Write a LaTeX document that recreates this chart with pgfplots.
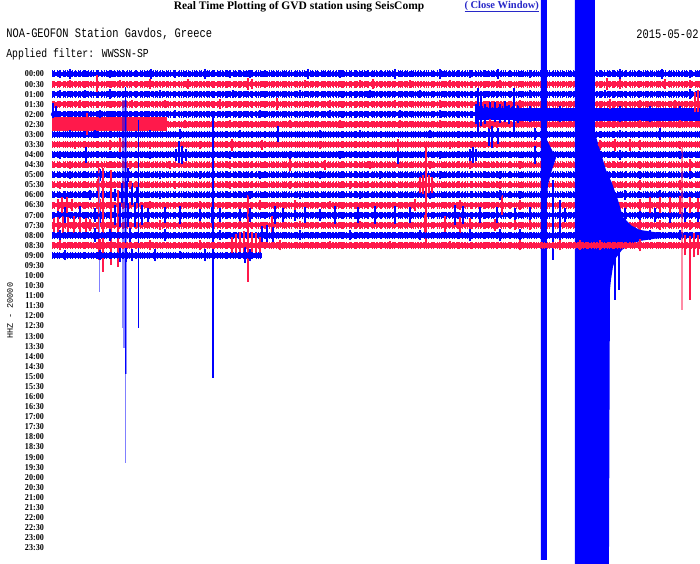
\documentclass[border=0pt]{standalone}
\usepackage{fontspec}
\setmainfont{Liberation Serif}
\newfontfamily\hdrfont[FakeStretch=0.8]{Liberation Mono}
\newfontfamily\tickfont[FakeStretch=0.9]{Liberation Serif Bold}
\newfontfamily\labfont{Liberation Mono}
\usepackage{pgfplots}
\usepackage{pgfplotstable}
\pgfplotsset{compat=1.18}
\definecolor{sb}{RGB}{0,0,255}
\definecolor{sr}{RGB}{255,25,75}
\definecolor{sbl}{RGB}{128,128,255}
\definecolor{lk}{RGB}{40,40,200}

% bursts of the blue rows (00:00 ... 07:00): x, row centre y, extent up u, extent down d (pixels)
\pgfplotstableread{
x y u d
60 74 4 4
70 74 5 5
110 74 4 4
151 74 5 5
175 74 4 4
205 74 5 5
230 74 4 4
250 74 4 4
308 74 5 5
340 74 4 4
395 74 5 5
440 74 5 5
470 74 4 4
498 74 5 5
530 74 4 4
620 74 5 5
662 74 5 5
690 74 4 4
60 94.2 4 4
85 94.2 4 4
110 94.2 5 5
160 94.2 4 4
233 94.2 4 4
300 94.2 4 4
370 94.2 4 4
420 94.2 4 4
530 94.2 4 4
605 94.2 4 4
690 94.2 5 5
53 114.3 11 4
56 114.3 8 3
100 114.3 4 4
175 114.3 4 4
260 114.3 4 4
330 114.3 4 4
400 114.3 4 4
440 114.3 4 4
476 114.3 10 10
478 114.3 26 18
481 114.3 22 12
485 114.3 10 10
490 114.3 12 10
495 114.3 12 8
500 114.3 10 9
505 114.3 13 8
509 114.3 9 10
514 114.3 26 19
518 114.3 9 9
530 114.3 8 8
560 114.3 8 8
620 114.3 8 8
650 114.3 8 8
680 114.3 8 8
70 134.5 4 4
95 134.5 4 4
150 134.5 4 4
180 134.5 5 5
240 134.5 4 4
278 134.5 8 8
320 134.5 4 4
360 134.5 4 4
430 134.5 4 4
489 134.5 6 12
492 134.5 8 14
498 134.5 6 10
535 134.5 6 6
620 134.5 4 4
660 134.5 6 6
60 154.7 4 4
86 154.7 8 8
120 154.7 4 4
150 154.7 4 4
176 154.7 6 6
179 154.7 14 8
182 154.7 9 9
186 154.7 6 6
230 154.7 4 4
290 154.7 4 4
340 154.7 4 4
398 154.7 12 9
440 154.7 4 4
470 154.7 6 6
473 154.7 8 8
476 154.7 6 6
535 154.7 9 9
620 154.7 5 5
680 154.7 4 4
70 174.9 4 4
100 174.9 6 6
128 174.9 7 7
160 174.9 4 4
200 174.9 4 4
260 174.9 4 4
320 174.9 4 4
380 174.9 4 4
440 174.9 4 4
500 174.9 4 4
640 174.9 4 4
690 174.9 4 4
65 195.0 4 4
90 195.0 5 5
115 195.0 6 6
122 195.0 12 8
127 195.0 14 10
132 195.0 12 10
137 195.0 8 8
160 195.0 4 4
250 195.0 4 4
300 195.0 4 4
360 195.0 4 4
430 195.0 4 4
500 195.0 5 5
520 195.0 4 4
625 195.0 5 5
660 195.0 5 5
58 215.2 5 5
65 215.2 8 8
80 215.2 9 9
95 215.2 7 7
100 215.2 8 8
115 215.2 10 10
120 215.2 12 12
128 215.2 12 12
135 215.2 13 12
142 215.2 10 10
148 215.2 7 7
165 215.2 8 8
180 215.2 9 9
200 215.2 6 6
212 215.2 8 8
220 215.2 7 7
240 215.2 6 6
250 215.2 7 7
275 215.2 9 9
283 215.2 7 7
295 215.2 6 6
305 215.2 8 8
320 215.2 6 6
335 215.2 9 9
358 215.2 8 8
375 215.2 9 9
395 215.2 9 9
410 215.2 8 8
455 215.2 10 10
463 215.2 9 9
480 215.2 8 8
497 215.2 8 8
515 215.2 7 7
530 215.2 8 8
553 215.2 8 8
565 215.2 7 7
625 215.2 7 7
640 215.2 8 8
655 215.2 7 7
670 215.2 8 8
685 215.2 7 7
698 215.2 7 7
}\blueburst

% bursts of the red rows (00:30 ... 07:30)
\pgfplotstableread{
x y u d
70 84.1 4 4
97 84.1 9 8
120 84.1 4 4
150 84.1 5 5
188 84.1 5 5
248 84.1 6 6
252 84.1 5 5
305 84.1 4 4
360 84.1 4 4
373 84.1 5 5
410 84.1 4 4
450 84.1 4 4
500 84.1 4 4
607 84.1 6 6
620 84.1 5 5
665 84.1 5 5
690 84.1 4 4
80 104.3 4 4
132 104.3 4 4
165 104.3 4 4
220 104.3 5 5
277 104.3 6 6
330 104.3 4 4
395 104.3 4 4
440 104.3 4 4
520 104.3 4 4
610 104.3 5 5
640 104.3 4 4
675 104.3 4 4
695 104.3 12 8
698 104.3 14 8
87 124.4 11 11
185 124.4 4 4
230 124.4 4 4
290 124.4 4 4
340 124.4 4 4
400 124.4 4 4
440 124.4 4 4
490 124.4 5 5
640 124.4 4 4
680 124.4 4 4
75 144.6 4 4
110 144.6 5 5
120 144.6 7 7
150 144.6 4 4
200 144.6 4 4
232 144.6 6 6
262 144.6 5 5
320 144.6 4 4
398 144.6 6 6
450 144.6 4 4
600 144.6 5 5
615 144.6 6 6
630 144.6 6 6
640 144.6 5 5
680 144.6 4 4
70 164.8 4 4
130 164.8 4 4
170 164.8 4 4
230 164.8 4 4
290 164.8 6 6
325 164.8 5 5
370 164.8 4 4
430 164.8 4 4
470 164.8 4 4
520 164.8 4 4
640 164.8 4 4
690 164.8 6 6
60 184.9 4 4
98 184.9 6 6
130 184.9 4 4
175 184.9 4 4
230 184.9 4 4
290 184.9 4 4
350 184.9 4 4
420 184.9 8 8
423 184.9 10 9
426 184.9 12 10
429 184.9 10 9
432 184.9 8 8
500 184.9 4 4
640 184.9 5 5
680 184.9 5 5
58 205.1 6 6
62 205.1 8 8
67 205.1 8 8
72 205.1 6 6
100 205.1 6 6
150 205.1 4 4
200 205.1 4 4
260 205.1 5 5
295 205.1 5 5
330 205.1 4 4
415 205.1 6 6
460 205.1 5 5
502 205.1 10 10
520 205.1 5 5
640 205.1 6 6
650 205.1 8 8
660 205.1 8 8
670 205.1 8 8
680 205.1 9 9
690 205.1 8 8
698 205.1 7 7
54 225.3 7 7
58 225.3 9 9
63 225.3 9 9
68 225.3 8 8
74 225.3 9 9
80 225.3 8 8
86 225.3 7 7
90 225.3 6 6
160 225.3 5 5
200 225.3 4 4
240 225.3 4 4
272 225.3 9 9
300 225.3 4 4
360 225.3 4 4
425 225.3 10 10
445 225.3 9 9
460 225.3 8 8
470 225.3 7 7
495 225.3 6 6
515 225.3 5 5
530 225.3 5 5
640 225.3 5 5
660 225.3 5 5
690 225.3 5 5
}\redburst

% row 08:00 (blue)
\pgfplotstableread{
x y u d
60 235.4 5 5
95 235.4 7 7
110 235.4 6 6
130 235.4 7 7
165 235.4 6 6
220 235.4 5 5
262 235.4 9 9
267 235.4 10 10
273 235.4 9 9
300 235.4 5 5
350 235.4 5 5
420 235.4 5 5
470 235.4 6 6
500 235.4 6 6
520 235.4 6 6
620 235.4 6 6
650 235.4 5 5
680 235.4 5 5
}\rowP

% row 08:30 (red)
\pgfplotstableread{
x y u d
60 245.4 5 5
100 245.4 6 6
150 245.4 5 5
200 245.4 5 5
232 245.4 8 8
236 245.4 11 11
240 245.4 13 13
244 245.4 14 14
252 245.4 13 13
256 245.4 12 12
260 245.4 8 8
280 245.4 5 5
330 245.4 4 4
390 245.4 4 4
450 245.4 4 4
520 245.4 5 5
560 245.4 5 5
580 245.4 5 5
600 245.4 5 5
640 245.4 6 6
685 245.4 10 10
694 245.4 12 12
698 245.4 10 10
}\rowQ

% row 09:00 (blue)
\pgfplotstableread{
x y u d
65 255.5 5 5
100 255.5 5 5
120 255.5 7 7
126 255.5 7 7
132 255.5 6 6
155 255.5 6 6
180 255.5 4 4
205 255.5 6 6
245 255.5 8 8
250 255.5 6 6
}\rowR

\pgfplotsset{
  burst/.style={#1, draw=#1, fill=#1, only marks, mark=none, forget plot,
    error bars/.cd, y dir=both, y explicit, error mark=none,
    error bar style={draw=#1, line width=2.2pt}},
  base/.style={#1, line width=4.4pt, unbounded coords=jump},
  tex/.style={#1, line width=7pt, unbounded coords=jump,
    dash pattern=on 0.6pt off 1.4pt on 1.0pt off 2.1pt on 0.5pt off 1.0pt on 1.3pt off 2.6pt on 0.7pt off 1.7pt},
  texb/.style={#1, line width=5.8pt, unbounded coords=jump,
    dash pattern=on 1.5pt off 0.9pt on 0.8pt off 1.6pt on 2.1pt off 1.2pt on 0.6pt off 2.3pt},
}

\begin{document}
\begin{tikzpicture}
\begin{axis}[
  scale only axis, width=700pt, height=564pt,
  xmin=0, xmax=700, ymin=0, ymax=564, y dir=reverse,
  axis line style={draw=none}, major tick length=0pt,
  xtick=\empty,
  ytick={74.0,84.1,94.2,104.3,114.3,124.4,134.5,144.6,154.7,164.8,174.9,184.9,195.0,205.1,215.2,225.3,235.4,245.4,255.5,265.6,275.7,285.8,295.9,306.0,316.0,326.1,336.2,346.3,356.4,366.5,376.6,386.6,396.7,406.8,416.9,427.0,437.1,447.1,457.2,467.3,477.4,487.5,497.6,507.7,517.7,527.8,537.9,548.0},
  yticklabels={00:00,00:30,01:00,01:30,02:00,02:30,03:00,03:30,04:00,04:30,05:00,05:30,06:00,06:30,07:00,07:30,08:00,08:30,09:00,09:30,10:00,10:30,11:00,11:30,12:00,12:30,13:00,13:30,14:00,14:30,15:00,15:30,16:00,16:30,17:00,17:30,18:00,18:30,19:00,19:30,20:00,20:30,21:00,21:30,22:00,22:30,23:00,23:30},
  yticklabel style={anchor=east, inner sep=0pt, xshift=44pt, font=\tickfont\fontsize{9}{9}\selectfont},
  ylabel={HHZ - 20000},
  ylabel style={at={(axis description cs:0.0143,0.4486)}, anchor=center, font=\labfont\fontsize{8.5}{9}\selectfont},
  clip=true,
]
% ---- base traces, rows 00:00 ... 07:30
\addplot[base=sb] coordinates {(52,74)(700,74) (nan,nan) (52,94.2)(700,94.2) (nan,nan) (52,114.3)(700,114.3) (nan,nan) (52,134.5)(700,134.5) (nan,nan) (52,154.7)(700,154.7) (nan,nan) (52,174.9)(700,174.9) (nan,nan) (52,195.0)(700,195.0) (nan,nan) (52,215.2)(700,215.2)};
\addplot[tex=sb] coordinates {(52,74)(700,74) (nan,nan) (52,94.2)(700,94.2) (nan,nan) (52,114.3)(700,114.3) (nan,nan) (52,134.5)(700,134.5) (nan,nan) (52,154.7)(700,154.7) (nan,nan) (52,174.9)(700,174.9) (nan,nan) (52,195.0)(700,195.0) (nan,nan) (52,215.2)(700,215.2)};
\addplot[texb=sb] coordinates {(52,74)(700,74) (nan,nan) (52,94.2)(700,94.2) (nan,nan) (52,114.3)(700,114.3) (nan,nan) (52,134.5)(700,134.5) (nan,nan) (52,154.7)(700,154.7) (nan,nan) (52,174.9)(700,174.9) (nan,nan) (52,195.0)(700,195.0) (nan,nan) (52,215.2)(700,215.2)};
\addplot[sb, line width=14pt] coordinates {(475,113.5)(515,113.5)};
\addplot[sb, line width=13pt] coordinates {(515,114.3)(700,114.3)};
\addplot[base=sr] coordinates {(52,84.1)(700,84.1) (nan,nan) (52,104.3)(700,104.3) (nan,nan) (52,124.4)(700,124.4) (nan,nan) (52,144.6)(700,144.6) (nan,nan) (52,164.8)(700,164.8) (nan,nan) (52,184.9)(700,184.9) (nan,nan) (52,205.1)(700,205.1) (nan,nan) (52,225.3)(700,225.3)};
\addplot[tex=sr] coordinates {(52,84.1)(700,84.1) (nan,nan) (52,104.3)(700,104.3) (nan,nan) (52,124.4)(700,124.4) (nan,nan) (52,144.6)(700,144.6) (nan,nan) (52,164.8)(700,164.8) (nan,nan) (52,184.9)(700,184.9) (nan,nan) (52,205.1)(700,205.1) (nan,nan) (52,225.3)(700,225.3)};
\addplot[texb=sr] coordinates {(52,84.1)(700,84.1) (nan,nan) (52,104.3)(700,104.3) (nan,nan) (52,124.4)(700,124.4) (nan,nan) (52,144.6)(700,144.6) (nan,nan) (52,164.8)(700,164.8) (nan,nan) (52,184.9)(700,184.9) (nan,nan) (52,205.1)(700,205.1) (nan,nan) (52,225.3)(700,225.3)};
\addplot[sr, line width=14pt] coordinates {(52,124.4)(167,124.4)};
% ---- bursts
\addplot[burst=sb] table[x=x, y=y, y error plus=d, y error minus=u] {\blueburst};
\addplot[burst=sr] table[x=x, y=y, y error plus=d, y error minus=u] {\redburst};
% ---- long excursions
\addplot[sr, line width=1.4pt] coordinates {(99,168)(99,260)};
\addplot[sr, line width=1.6pt] coordinates {(103,168)(103,272)};
\addplot[sr, line width=1.4pt] coordinates {(111,170)(111,265)};
\addplot[sr, line width=1.2pt] coordinates {(118,190)(118,267)};
\addplot[sr, line width=1.4pt] coordinates {(426,147)(426,245)};
\addplot[draw=sbl, line width=1.5pt] coordinates {(99.5,170)(99.5,292)};
\addplot[draw=sb, line width=1.4pt] coordinates {(125.5,87)(125.5,374)};
\addplot[draw=sbl, line width=1.5pt] coordinates {(125.5,374)(125.5,463)};
\addplot[sb, opacity=0.45, line width=5pt] coordinates {(124.5,100)(124.5,328)};
\addplot[sb, opacity=0.45, line width=3.5pt] coordinates {(125,328)(125,348)};
\addplot[sb, opacity=0.45, line width=2pt] coordinates {(126,348)(126,374)};
\addplot[draw=sb, line width=1.5pt] coordinates {(138.3,120)(138.3,328)};
\addplot[draw=sb, line width=1.5pt] coordinates {(213,115)(213,378)};
% ---- row 08:00 with the earthquake
\addplot[base=sb] coordinates {(52,235.4)(700,235.4)};
\addplot[tex=sb] coordinates {(52,235.4)(700,235.4)};
\addplot[texb=sb] coordinates {(52,235.4)(700,235.4)};
\addplot[burst=sb] table[x=x, y=y, y error plus=d, y error minus=u] {\rowP};
\addplot[sb, line width=1.5pt] coordinates {(553,180)(553,260)};
\addplot[sb, line width=1.4pt] coordinates {(560,200)(560,240)};
\addplot[sb, fill=sb, draw=none] coordinates {(541,0)(547,0)(547,140)(551,148)(556,158)(552,170)(548,185)(547,200)(547,560)(541,560)};
\addplot[sb, fill=sb, draw=none] coordinates {(575,0)(595,0)(595,133)(600,150)(606,170)(612,183)(618,200)(623,217)(632,226)(640,230)(660,233)(700,233)(700,238)(660,238)(640,241)(630,245)(622,250)(616,258)(613,267)(611,280)(610,290)(609,564)(575,564)};
\addplot[sb, line width=1.4pt] coordinates {(615,250)(615,300)};
\addplot[sb, line width=1.4pt] coordinates {(619,250)(619,290)};
% ---- row 08:30
\addplot[base=sr] coordinates {(52,245.4)(700,245.4)};
\addplot[tex=sr] coordinates {(52,245.4)(700,245.4)};
\addplot[texb=sr] coordinates {(52,245.4)(700,245.4)};
\addplot[burst=sr] table[x=x, y=y, y error plus=d, y error minus=u] {\rowQ};
\addplot[sr, line width=1.6pt] coordinates {(248,195)(248,282)};
\addplot[sr, line width=1.6pt] coordinates {(690,236)(690,300)};
\addplot[sr, opacity=0.5, line width=1.4pt] coordinates {(682,148)(682,310)};
% ---- row 09:00
\addplot[base=sb] coordinates {(52,255.5)(262,255.5)};
\addplot[tex=sb] coordinates {(52,255.5)(262,255.5)};
\addplot[texb=sb] coordinates {(52,255.5)(262,255.5)};
\addplot[burst=sb] table[x=x, y=y, y error plus=d, y error minus=u] {\rowR};
% ---- texts
\node[font=\bfseries\fontsize{11.5}{12}\selectfont] at (axis cs:299,6.5) {Real Time Plotting of GVD station using SeisComp};
\node[font=\bfseries\fontsize{10.5}{12}\selectfont, text=lk, anchor=west] at (axis cs:461,6.5) {\underline{( Close Window)}};
\node[font=\hdrfont\fontsize{13}{14}\selectfont, anchor=west, inner sep=0pt] at (axis cs:6,34) {NOA-GEOFON Station Gavdos, Greece};
\node[font=\hdrfont\fontsize{12.2}{14}\selectfont, anchor=west, inner sep=0pt] at (axis cs:6,54) {Applied filter: WWSSN-SP};
\node[font=\hdrfont\fontsize{13}{14}\selectfont, anchor=east, inner sep=0pt] at (axis cs:699,34) {2015-05-02};
\end{axis}
\end{tikzpicture}
\end{document}
